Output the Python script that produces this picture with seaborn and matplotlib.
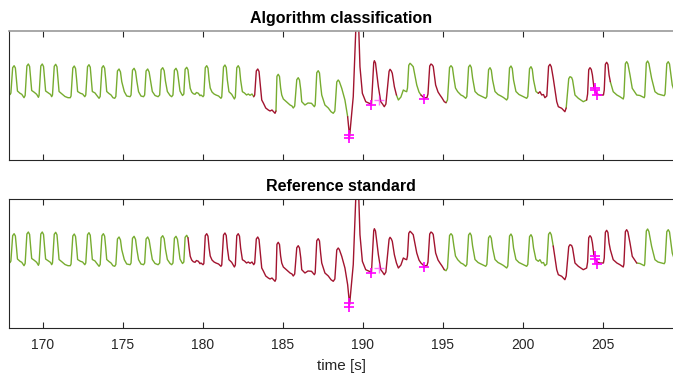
import numpy as np
import pandas as pd
import seaborn as sns
import matplotlib
matplotlib.use('Agg')
from matplotlib import pyplot as plt

# signal vertices, one line per beat (time in s, amplitude in a.u.)
time_s = [
    167.77, 167.96,
    168.01, 168.12, 168.21, 168.29, 168.36, 168.42, 168.58, 168.69, 168.83,
    168.90, 169.01, 169.10, 169.18, 169.25, 169.31, 169.47, 169.62, 169.73,
    169.77, 169.88, 169.97, 170.05, 170.12, 170.18, 170.36, 170.49, 170.56,
    170.61, 170.72, 170.81, 170.89, 170.96, 171.02, 171.21, 171.39, 171.58, 171.72,
    171.77, 171.88, 171.97, 172.05, 172.12, 172.18, 172.36, 172.49, 172.63,
    172.69, 172.80, 172.89, 172.97, 173.04, 173.10, 173.27, 173.36, 173.52,
    173.59, 173.70, 173.79, 173.87, 173.94, 174.00, 174.14, 174.27, 174.39, 174.50,
    174.57, 174.67, 174.77, 174.86, 174.94, 175.10, 175.25, 175.46,
    175.52, 175.61, 175.71, 175.80, 175.88, 175.99, 176.14, 176.30,
    176.37, 176.46, 176.56, 176.65, 176.74, 176.85, 177.02, 177.21,
    177.31, 177.40, 177.50, 177.59, 177.67, 177.79, 177.96, 178.06,
    178.14, 178.23, 178.33, 178.42, 178.50, 178.58, 178.68, 178.74,
    178.82, 178.90, 179.00, 179.08, 179.15, 179.22, 179.31, 179.41, 179.52, 179.61, 179.73, 179.83, 179.89, 180.02,
    180.07, 180.16, 180.25, 180.33, 180.40, 180.47, 180.58, 180.71, 180.83, 180.99, 181.14,
    181.19, 181.30, 181.39, 181.47, 181.54, 181.64, 181.81, 181.98,
    182.04, 182.13, 182.22, 182.30, 182.37, 182.48, 182.61, 182.74, 182.85, 182.96, 183.08, 183.19,
    183.25, 183.35, 183.44, 183.52, 183.60, 183.69, 183.79, 183.94, 184.10, 184.21, 184.33, 184.52,
    184.58, 184.64, 184.72, 184.80, 184.87, 184.94, 185.04, 185.25, 185.46, 185.58, 185.66,
    185.75, 185.88, 185.97, 186.05, 186.13, 186.19, 186.39, 186.58, 186.80, 186.98,
    187.03, 187.13, 187.22, 187.30, 187.37, 187.44, 187.64, 187.85, 188.02, 188.16,
    188.26, 188.38, 188.47, 188.54, 188.69, 188.89, 189.06, 189.18,
    189.41, 189.67, 189.83, 189.98, 190.19, 190.41, 190.55,
    190.69, 190.73, 190.80, 190.98, 191.13, 191.24, 191.35,
    191.45, 191.65, 191.71, 191.79, 191.85, 191.98, 192.11, 192.23, 192.39, 192.54, 192.64, 192.75,
    192.80, 192.88, 192.96, 193.04, 193.16, 193.38, 193.52, 193.64, 193.85, 194.02,
    194.08, 194.19, 194.27, 194.35, 194.41, 194.56, 194.71, 194.83, 194.96, 195.10, 195.21,
    195.30, 195.43, 195.52, 195.61, 195.70, 195.80, 195.94, 196.14, 196.27, 196.44,
    196.51, 196.62, 196.71, 196.79, 196.87, 197.02, 197.21, 197.33, 197.46, 197.69,
    197.76, 197.87, 197.96, 198.04, 198.12, 198.27, 198.46, 198.64, 198.80, 199.00,
    199.07, 199.18, 199.27, 199.35, 199.43, 199.58, 199.77, 199.96, 200.25,
    200.32, 200.43, 200.52, 200.60, 200.68, 200.83, 200.98, 201.08, 201.19, 201.30, 201.39,
    201.51, 201.62, 201.71, 201.79, 201.91, 202.13, 202.23, 202.44, 202.64,
    202.72, 202.88, 202.96, 203.06, 203.12, 203.27, 203.48, 203.79, 204.00,
    204.06, 204.13, 204.21, 204.29, 204.36, 204.46, 204.64, 204.83, 205.05,
    205.10, 205.17, 205.25, 205.33, 205.40, 205.48, 205.66, 205.89, 206.08, 206.29,
    206.33, 206.42, 206.50, 206.58, 206.71, 206.85, 207.13, 207.33, 207.48, 207.60,
    207.63, 207.73, 207.81, 207.89, 208.06, 208.27, 208.46, 208.69, 208.85,
    208.90, 209.01, 209.10, 209.18, 209.35, 209.52, 209.71,
]
signal = [
    64.5, 65.5,
    67.0, 92.3, 94.3, 92.0, 80.0, 69.0, 66.7, 65.7, 62.3,
    64.5, 94.0, 96.0, 93.5, 80.0, 69.5, 67.7, 65.7, 62.7,
    64.5, 94.0, 96.0, 93.5, 80.0, 69.0, 67.0, 65.5, 63.3,
    65.0, 93.7, 95.7, 93.2, 80.0, 68.5, 66.0, 63.5, 62.3, 62.3,
    64.0, 92.0, 94.0, 91.5, 80.0, 68.5, 66.7, 66.0, 63.3,
    65.0, 93.3, 95.3, 92.8, 80.0, 68.5, 67.0, 65.0, 61.7,
    63.5, 92.3, 94.3, 91.8, 80.0, 68.5, 66.5, 65.0, 62.3, 61.7,
    63.5, 89.0, 91.0, 88.0, 78.3, 68.3, 64.0, 63.3,
    65.0, 89.7, 91.7, 88.7, 79.0, 68.3, 64.0, 63.3,
    65.0, 89.0, 91.0, 88.0, 79.0, 68.5, 64.5, 63.3,
    65.0, 90.3, 92.3, 89.3, 79.0, 68.5, 64.5, 63.3,
    65.0, 89.7, 91.7, 88.7, 79.0, 69.0, 66.0, 64.5,
    66.0, 90.7, 92.7, 90.2, 80.0, 71.7, 68.0, 66.3, 65.7, 67.5, 66.7, 64.3, 65.0, 63.3,
    64.5, 92.3, 94.3, 91.8, 80.0, 72.0, 68.0, 66.0, 65.0, 64.0, 61.7,
    63.0, 93.0, 95.0, 92.5, 80.0, 68.3, 65.7, 61.0,
    63.0, 92.3, 94.3, 91.8, 80.0, 68.3, 67.0, 65.0, 66.0, 64.7, 66.0, 63.3,
    65.0, 89.0, 91.0, 88.5, 75.0, 60.0, 57.0, 52.0, 50.0, 49.0, 50.0, 46.7,
    49.0, 83.7, 85.7, 83.5, 72.0, 65.0, 61.0, 58.0, 55.0, 54.0, 52.0,
    54.0, 80.3, 82.3, 80.0, 70.0, 58.3, 55.0, 57.0, 56.7, 53.3,
    55.0, 87.3, 89.3, 87.0, 75.0, 65.0, 55.0, 52.0, 48.3, 46.7,
    49.0, 78.0, 80.0, 78.5, 71.7, 60.0, 43.3, 23.3,
    63.3, 173.0, 93.3, 66.7, 58.3, 56.7, 56.0,
    97.3, 99.3, 97.0, 73.3, 58.3, 56.0, 53.3,
    56.0, 88.7, 90.7, 89.0, 86.7, 73.3, 65.0, 60.0, 63.0, 70.0, 69.0, 68.3,
    72.0, 94.7, 96.7, 95.5, 93.3, 75.0, 68.0, 65.0, 62.0, 62.5,
    66.0, 94.0, 96.0, 95.0, 93.5, 75.0, 68.0, 65.0, 62.0, 58.3, 57.3,
    60.0, 92.5, 94.3, 92.5, 82.0, 72.0, 68.3, 65.0, 64.0, 61.7,
    63.5, 93.0, 95.0, 92.5, 82.0, 68.5, 65.5, 64.5, 63.5, 61.7,
    63.5, 90.3, 92.3, 89.8, 80.0, 68.5, 65.5, 64.0, 62.5, 60.0,
    62.0, 92.0, 94.0, 91.5, 80.0, 68.5, 65.5, 64.0, 61.7,
    63.5, 91.3, 93.3, 90.8, 80.0, 68.5, 66.7, 68.3, 65.0, 65.5, 62.3,
    64.0, 93.7, 95.7, 93.2, 82.0, 58.3, 53.3, 51.7, 48.3,
    52.0, 81.3, 83.3, 82.5, 80.0, 65.0, 61.7, 58.3, 60.0,
    66.0, 90.3, 92.3, 90.5, 85.0, 71.7, 66.0, 65.0, 65.0,
    70.0, 95.7, 97.7, 95.5, 85.0, 78.3, 68.3, 65.0, 63.3, 61.0,
    64.0, 96.3, 98.3, 96.0, 85.0, 71.7, 65.0, 64.5, 63.3, 62.3,
    64.0, 97.0, 99.0, 96.5, 81.7, 68.3, 66.0, 65.0, 64.3,
    66.0, 96.3, 98.3, 96.0, 75.0, 67.0, 65.0,
]

# stretches marked as artefact (red) in each panel
algo_red_spans = [(183.19, 184.52), (189.06, 192.05), (193.64, 195.10),
                  (200.98, 202.64), (204.00, 205.45)]
ref_red_spans = [(179.08, 195.00), (201.91, 206.95)]

# magenta beat marks
mark_t = [189.16, 189.16, 190.50, 193.85, 204.52, 204.52, 204.62]
mark_v = [25.0, 21.5, 55.0, 61.0, 72.0, 69.5, 64.5]
faint_mark_t = [191.04]
faint_mark_v = [60.0]

titles = ['Algorithm classification', 'Reference standard']
xticks = [170, 175, 180, 185, 190, 195, 200, 205]

GREEN = '#77AC30'
RED = '#A2142F'
MAGENTA = '#FF00FF'


def colour_runs(spans):
    state = ['bad' if any(a <= t <= b for a, b in spans) else 'ok' for t in time_s]
    rows = []
    seg = 0
    for i, (t, v) in enumerate(zip(time_s, signal)):
        if i > 0 and state[i] != state[i - 1]:
            rows.append((seg, state[i - 1], t, v))
            seg += 1
        rows.append((seg, state[i], t, v))
    return pd.DataFrame(rows, columns=['seg', 'state', 't', 'v'])


sns.set_theme(style='white')
plt.rcParams['font.family'] = ['Liberation Sans', 'DejaVu Sans']

fig = plt.figure(figsize=(6.73, 3.74), dpi=100)
W, H = 673, 374
left, right = 8.5, 674
axes = [fig.add_axes([left / W, 1 - 160 / H, (right - left) / W, 129 / H]),
        fig.add_axes([left / W, 1 - 328 / H, (right - left) / W, 129 / H])]

for ax, spans, title in zip(axes, [algo_red_spans, ref_red_spans], titles):
    df = colour_runs(spans)
    sns.lineplot(data=df, x='t', y='v', hue='state', units='seg', estimator=None,
                 sort=False, palette={'ok': GREEN, 'bad': RED}, legend=False,
                 linewidth=1.0, ax=ax)
    sns.scatterplot(x=mark_t, y=mark_v, marker='+', s=45, color=MAGENTA,
                    linewidth=1.2, ax=ax, zorder=5)
    sns.scatterplot(x=faint_mark_t, y=faint_mark_v, marker='+', s=45, color=MAGENTA,
                    linewidth=1.0, alpha=0.55, ax=ax, zorder=5)
    ax.set_xlim(167.86, 209.46)
    ax.set_ylim(0, 129)
    ax.set_yticks([])
    ax.set_xticks(xticks)
    ax.set_xlabel('')
    ax.set_ylabel('')
    ax.tick_params(axis='x', direction='in', length=4, width=0.8, color='#262626',
                   top=True, bottom=True, labelsize=10, labelcolor='#262626', pad=7)
    for side in ['left', 'top', 'bottom']:
        ax.spines[side].set_color('#262626')
        ax.spines[side].set_linewidth(0.8)
    ax.spines['right'].set_visible(False)
    ax.set_title(title, fontsize=11.5, fontweight='bold', color='black', pad=6)

axes[0].tick_params(axis='x', labelbottom=False)
axes[0].spines['top'].set_color('#9a9a9a')
axes[0].spines['top'].set_linewidth(1.2)
axes[1].set_xticklabels([str(x) for x in xticks])
axes[1].set_xlabel('time [s]', fontsize=11, color='#262626', labelpad=5)

fig.savefig('out.png', dpi=100)
